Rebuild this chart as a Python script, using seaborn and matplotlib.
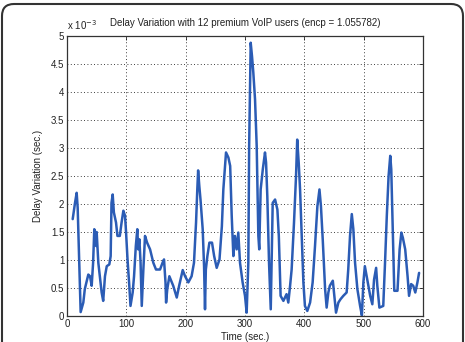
import numpy as np
import pandas as pd
import matplotlib
matplotlib.use("Agg")
import matplotlib.pyplot as plt
import seaborn as sns
from matplotlib.patches import FancyBboxPatch
from matplotlib.ticker import FuncFormatter

# time (sec.) and delay variation (x 1e-3 sec.)
time_sec = [9.6, 13.5, 16.3, 18, 20.8, 23, 27.5, 30, 35.9, 38.8, 41.6, 44, 46, 49, 50,
            52.8, 58.4, 61, 64, 67, 71.3, 73.6, 75, 77, 79, 82.6, 85, 89, 92, 95,
            97.8, 99.4, 102, 105, 107, 110.7, 113, 116, 118.5, 120, 122, 124, 126, 128.7, 131.5,
            135, 140, 145.5, 150, 156.8, 161, 163.5, 166, 167, 169, 172.5, 179, 185, 189, 195,
            199, 204.5, 210, 214, 217.5, 219.6, 221, 223, 225, 228.7, 231, 232.6, 234, 236.6, 240,
            244.4, 248, 252.3, 257, 261, 263.5, 268, 272, 275, 277.6, 280.4, 283, 286, 288.7,
            291.6, 296, 300, 302.8, 305.6, 307, 309.6, 311.8, 314, 316.9, 319.7, 322.5, 324, 326.4,
            330, 333.7, 335.5, 337.6, 340.5, 343.4, 346.7, 350.7, 354.6, 357, 360, 364.7, 370, 373,
            376, 378.6, 382.6, 386, 388, 390.5, 392.8, 395.6, 398.4, 401, 405, 409.7, 414, 418,
            422, 425.5, 428, 431, 435, 437.6, 440.5, 443, 448, 450, 453.4, 457.4, 461, 465.7,
            471.3, 474, 477, 480, 482.6, 485.5, 489.4, 494, 497, 499.5, 502, 506, 511, 514.6,
            517.5, 521, 523, 526.5, 533, 536, 539, 542, 544.8, 546.5, 549, 551.6, 557, 560.6,
            563.5, 566, 570, 574, 576.5, 580, 583.5, 587, 590.6, 593.4]
delay_ms = [1.73, 2.02, 2.2, 1.93, 0.86, 0.07, 0.24, 0.48, 0.74, 0.71, 0.54, 0.95, 1.55, 1.25, 1.5,
            0.95, 0.42, 0.27, 0.71, 0.89, 0.92, 1.07, 2.02, 2.17, 1.85, 1.67, 1.43, 1.43, 1.67, 1.88,
            1.79, 1.52, 1.01, 0.54, 0.18, 0.42, 0.71, 1.25, 1.55, 1.19, 1.37, 0.95, 0.18, 0.83, 1.43,
            1.31, 1.19, 0.95, 0.83, 0.83, 0.95, 1.01, 0.6, 0.24, 0.48, 0.71, 0.54, 0.33, 0.54, 0.82,
            0.71, 0.6, 0.71, 0.95, 1.67, 2.26, 2.6, 2.32, 2.08, 1.55, 0.89, 0.12, 0.83, 1.07, 1.31,
            1.31, 1.07, 0.86, 1.01, 1.6, 2.26, 2.92, 2.83, 2.68, 1.79, 1.07, 1.43, 1.19, 1.49,
            0.95, 0.6, 0.36, 0.06, 0.95, 3.04, 4.88, 4.64, 4.35, 3.87, 3.04, 1.43, 1.19, 2.26,
            2.62, 2.92, 2.74, 2.14, 0.95, 0.12, 2.02, 2.08, 1.9, 1.43, 0.36, 0.27, 0.39, 0.24,
            0.54, 0.83, 1.67, 2.5, 3.15, 2.74, 2.26, 1.43, 0.6, 0.18, 0.09, 0.24, 0.6, 1.25,
            1.96, 2.26, 1.96, 1.37, 0.48, 0.15, 0.42, 0.54, 0.63, 0.42, 0.06, 0.24, 0.3, 0.36,
            0.42, 0.83, 1.43, 1.82, 1.55, 0.95, 0.48, 0.18, 0.01, 0.6, 0.89, 0.65, 0.36, 0.21,
            0.65, 0.86, 0.54, 0.15, 0.18, 0.95, 1.79, 2.5, 2.86, 2.62, 1.55, 0.45, 0.45, 1.19,
            1.49, 1.4, 1.19, 0.71, 0.36, 0.57, 0.54, 0.42, 0.6, 0.77]

x_ticks = [0, 100, 200, 300, 400, 500, 600]
y_ticks = [0, 0.5, 1, 1.5, 2, 2.5, 3, 3.5, 4, 4.5, 5]

df = pd.DataFrame({"t": time_sec, "dv": delay_ms})

sns.set_style("white")
plt.rcParams["font.family"] = ["Liberation Sans", "DejaVu Sans"]
plt.rcParams["xtick.direction"] = "in"
plt.rcParams["ytick.direction"] = "in"

fig = plt.figure(figsize=(4.65, 3.42), dpi=100)
ax = fig.add_axes([67 / 465, 1 - 316 / 342, 356 / 465, 280 / 342])

sns.lineplot(data=df, x="t", y="dv", ax=ax, color="#2b5cb5", linewidth=1.8)

ax.set_xlim(0, 600)
ax.set_ylim(0, 5)
ax.set_xticks(x_ticks)
ax.set_yticks(y_ticks)
ax.yaxis.set_major_formatter(FuncFormatter(lambda v, p: "%g" % v))
ax.grid(True, color="black", linestyle=(0, (1, 3)), linewidth=0.6)
ax.tick_params(labelsize=7, colors="#222222", length=3, width=0.6,
               top=True, right=True, pad=2)
for s in ax.spines.values():
    s.set_color("#333333")
    s.set_linewidth(0.9)

ax.set_xlabel("Time (sec.)", fontsize=7, color="#222222", labelpad=2)
ax.set_ylabel("Delay Variation (sec.)", fontsize=7, color="#222222", labelpad=6)
ax.set_title("Delay Variation with 12 premium VoIP users (encp = 1.055782)",
             fontsize=7, color="#222222", pad=7)
ax.text(0, 1.015, "x 10$^{-3}$", transform=ax.transAxes, fontsize=7,
        color="#222222", ha="left", va="bottom")

# rounded frame around the whole figure
frame = FancyBboxPatch((0.02, -0.5), 4.61, 3.38 + 0.5,
                       boxstyle="round,pad=0,rounding_size=0.12",
                       transform=fig.dpi_scale_trans, fill=False,
                       edgecolor="#333333", linewidth=1.5)
fig.patches.append(frame)

fig.savefig("out.png", dpi=100)
